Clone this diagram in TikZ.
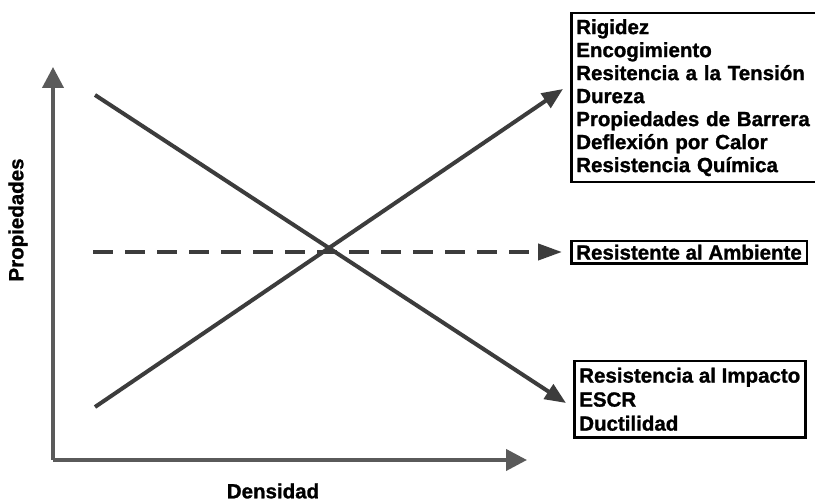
\documentclass[tikz,border=0pt]{standalone}
\usepackage{fontspec}
\setmainfont{Liberation Sans}[BoldFeatures={FakeBold=1.2}]
\usetikzlibrary{arrows.meta}
\definecolor{axisgray}{HTML}{5A5A5A}
\definecolor{linegray}{HTML}{3C3C3C}
\tikzset{
  axisline/.style={draw=axisgray, line width=4pt, -{Triangle[length=21pt,width=21pt]}},
  dataline/.style={draw=linegray, line width=4pt, -{Triangle[length=21pt,width=17pt]}},
  dashline/.style={draw=linegray, line width=4pt, dash pattern=on 20pt off 12pt, -{Triangle[length=24pt,width=16pt]}},
  propbox/.style={draw=black, line width=2.5pt, align=left, inner xsep=5pt, anchor=north west,
    font=\fontsize{20.5}{24}\selectfont\bfseries},
  axislabel/.style={font=\fontsize{20.5}{24}\selectfont\bfseries, inner sep=0pt}
}
\begin{document}
\begin{tikzpicture}[x=1pt,y=-1pt]
\useasboundingbox (0,0) rectangle (815,502);
\clip (0,0) rectangle (815,502);
\fill[white] (0,0) rectangle (815,502);
% axes
\coordinate (O) at (53,460);
\coordinate (Ytip) at (53,67);
\coordinate (Xtip) at (527,460);
\draw[draw=axisgray, line width=4pt] (53,460) -- (53,458);
\draw[axisline] (O) -- (Ytip);
\draw[axisline] (O) -- (Xtip);
% data lines
\coordinate (Dstart) at (95,95);
\coordinate (Dend) at (566,403);
\coordinate (Ustart) at (95,407);
\coordinate (Uend) at (563,89);
\coordinate (Hstart) at (93,252);
\coordinate (Hend) at (562,252);
\draw[dataline] (Dstart) -- (Dend);
\draw[dataline] (Ustart) -- (Uend);
\draw[dashline] (Hstart) -- (Hend);
% boxes
\node[propbox, inner ysep=6pt, text width=260pt, font=\fontsize{20.5}{23}\selectfont\bfseries] (top) at (570,12)
  {Rigidez\\Encogimiento\\Resitencia a la Tensión\\Dureza\\Propiedades de Barrera\\Deflexión por Calor\\Resistencia Química};
\node[propbox, inner ysep=3.5pt] (mid) at (570,240) {Resistente al Ambiente};
\node[propbox, inner ysep=6.5pt] (bot) at (573,360) {Resistencia al Impacto\\ESCR\\Ductilidad};
% axis labels
\node[axislabel, rotate=90] (ylab) at (18,220) {Propiedades};
\node[axislabel] (xlab) at (273,491) {Densidad};
\end{tikzpicture}
\end{document}
